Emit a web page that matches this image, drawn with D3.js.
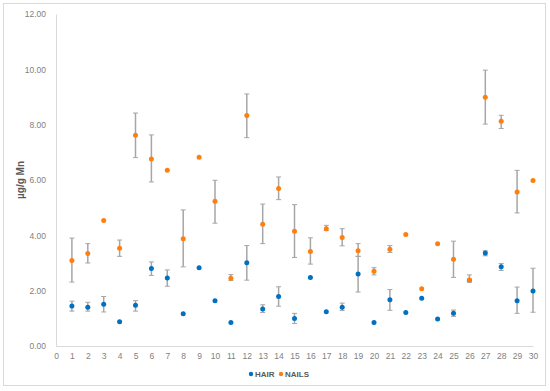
<!DOCTYPE html>
<html><head><meta charset="utf-8">
<script src="https://cdn.jsdelivr.net/npm/d3@7"></script>
<style>body{margin:0;background:#fff;}svg{display:block;}</style>
</head><body>
<svg id="c" width="550" height="391"></svg>
<script>
const samples = d3.range(1, 31);
const hair   = [1.45,1.40,1.51,0.88,1.47,2.80,2.46,1.17,2.83,1.64,0.85,3.01,1.34,1.79,0.99,2.48,1.24,1.40,2.60,0.85,1.67,1.21,1.73,0.98,1.18,2.38,3.36,2.86,1.64,1.99];
const hairLo = [1.26,1.26,1.23,null,1.26,2.55,2.16,null,null,null,null,2.38,1.21,1.44,0.81,null,null,1.28,1.95,null,1.29,null,null,null,1.07,null,3.26,2.73,1.18,1.22];
const hairHi = [1.62,1.58,1.79,null,1.64,3.04,2.75,null,null,null,null,3.63,1.49,2.14,1.18,null,null,1.55,3.24,null,2.04,null,null,null,1.30,null,3.44,2.98,2.13,2.81];
const nails   = [3.09,3.34,4.54,3.53,7.62,6.76,6.35,3.88,6.82,5.23,2.45,8.33,4.40,5.69,4.15,3.42,4.24,3.92,3.44,2.70,3.50,4.03,2.07,3.70,3.14,2.39,8.99,8.12,5.57,5.98];
const nailsLo = [2.31,3.00,null,3.24,6.81,5.93,null,2.86,null,4.44,2.37,7.53,3.70,5.29,3.20,2.96,4.17,3.62,3.24,2.57,3.38,null,null,null,2.48,2.31,8.02,7.86,4.81,null];
const nailsHi = [3.90,3.70,null,3.83,8.42,7.63,null,4.92,null,5.99,2.58,9.11,5.13,6.11,5.11,3.91,4.36,4.24,3.70,2.83,3.63,null,null,null,3.79,2.57,9.97,8.34,6.35,null];
const xTicks = d3.range(0, 31);
const yTicks = [0,2,4,6,8,10,12];
const seriesNames = ["HAIR","NAILS"];
const colors = ["#0070C0","#FF7F0E"];

const svg = d3.select("#c");
const font = "'Liberation Sans', Arial, sans-serif";
svg.append("rect").attr("x",3.5).attr("y",3.5).attr("width",542).attr("height",382)
  .attr("fill","#fff").attr("stroke","#d9d9d9");

const x = d3.scaleLinear().domain([0,30]).range([56,533]);
const y = d3.scaleLinear().domain([0,12]).range([346,14]);

const xAxis = svg.append("g").attr("transform","translate(0,346)")
  .call(d3.axisBottom(x).tickValues(xTicks).tickSize(0).tickPadding(7).tickFormat(d3.format("d")));
const yAxis = svg.append("g").attr("transform","translate(56,0)")
  .call(d3.axisLeft(y).tickValues(yTicks).tickSize(0).tickPadding(10).tickFormat(d3.format(".2f")));
[xAxis,yAxis].forEach(a=>{
  a.select(".domain").attr("stroke","#d9d9d9").attr("stroke-width",1);
  a.selectAll("text").attr("fill","#7f7f7f").style("font-family",font).style("font-size","8.5px");
});

svg.append("text").attr("transform","translate(24,180) rotate(-90)")
  .attr("text-anchor","middle").attr("fill","#595959")
  .style("font-family",font).style("font-size","10px").style("font-weight","bold")
  .text("µg/g Mn");

function drawSeries(vals, lo, hi, color){
  const g = svg.append("g");
  const idx = samples.map((s,i)=>i).filter(i=>lo[i]!=null);
  g.selectAll("line.v").data(idx).join("line")
    .attr("x1",i=>x(samples[i])).attr("x2",i=>x(samples[i]))
    .attr("y1",i=>y(lo[i])).attr("y2",i=>y(hi[i]))
    .attr("stroke","#a6a6a6").attr("stroke-width",1.5);
  [lo,hi].forEach(arr=>{
    g.selectAll(null).data(idx).join("line")
      .attr("x1",i=>x(samples[i])-2.5).attr("x2",i=>x(samples[i])+2.5)
      .attr("y1",i=>y(arr[i])).attr("y2",i=>y(arr[i]))
      .attr("stroke","#a6a6a6").attr("stroke-width",1);
  });
  g.selectAll("circle").data(vals).join("circle")
    .attr("cx",(d,i)=>x(samples[i])).attr("cy",d=>y(d)).attr("r",2.5).attr("fill",color);
}
drawSeries(hair, hairLo, hairHi, colors[0]);
drawSeries(nails, nailsLo, nailsHi, colors[1]);

const lg = svg.append("g").attr("transform","translate(251,374)");
const items = [{n:seriesNames[0],c:colors[0],dx:0},{n:seriesNames[1],c:colors[1],dx:30}];
items.forEach(it=>{
  lg.append("circle").attr("cx",it.dx).attr("cy",0).attr("r",2.2).attr("fill",it.c);
  lg.append("text").attr("x",it.dx+4).attr("y",3).attr("fill","#595959")
    .style("font-family",font).style("font-size","8px").style("font-weight","bold").text(it.n);
});
</script>
</body></html>
